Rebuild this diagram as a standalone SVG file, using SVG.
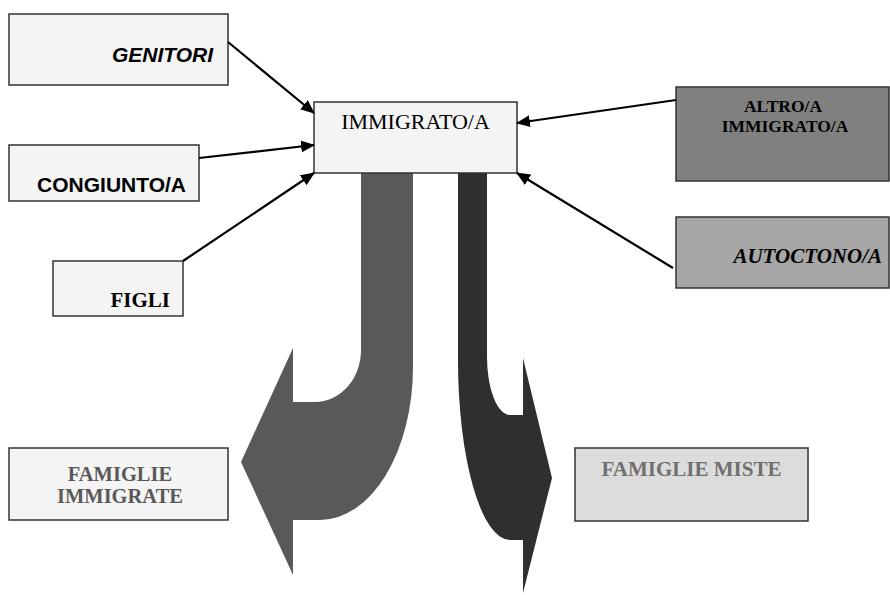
<svg xmlns="http://www.w3.org/2000/svg" width="890" height="595" viewBox="0 0 890 595">
<style>
.box{stroke:#333;stroke-width:1.5}
.sans{font-family:"Liberation Sans",Arial,sans-serif;font-weight:bold;font-size:21px;fill:#000}
.serif{font-family:"Liberation Serif","Times New Roman",serif;fill:#000}
.conn line{stroke:#000;stroke-width:2.2;marker-end:url(#ah)}
</style>
<defs>
<marker id="ah" markerUnits="userSpaceOnUse" markerWidth="14" markerHeight="12" viewBox="0 0 14 12" refX="13" refY="6" orient="auto">
<path d="M0,0 L14,6 L0,12 Z" fill="#000"/>
</marker>
</defs>
<g id="big-arrows">
<path id="arrow-immigrate" d="M361,173 L413,173 L413,367 A93,153 0 0 1 320,520 L293,520 L293,575 L241,462 L293,348 L293,402 L315,402 A46,52 0 0 0 361,350 Z" fill="#595959"/>
<path id="arrow-miste" d="M458,173 L487,173 L487,357 A23,58 0 0 0 510,415 L523,415 L523,358 L552,478 L523,593 L523,540 L510,540 A52,180 0 0 1 458,360 Z" fill="#2f2f2f"/>
</g>
<g id="genitori">
<rect class="box" x="9" y="14" width="219" height="71" fill="#f4f4f4"/>
<text class="sans" x="213" y="62" text-anchor="end" font-style="italic">GENITORI</text>
</g>
<g id="congiunto">
<rect class="box" x="9" y="145" width="190" height="56" fill="#f4f4f4"/>
<text class="sans" x="186" y="192" text-anchor="end">CONGIUNTO/A</text>
</g>
<g id="figli">
<rect class="box" x="53" y="261" width="130" height="55" fill="#f4f4f4"/>
<text class="serif" x="170" y="307" text-anchor="end" font-weight="bold" font-size="21">FIGLI</text>
</g>
<g id="immigrato">
<rect class="box" x="314" y="102" width="203" height="71" fill="#f4f4f4"/>
<text class="serif" x="415.5" y="129" text-anchor="middle" font-size="22">IMMIGRATO/A</text>
</g>
<g id="altro">
<rect class="box" x="676" y="87" width="213" height="94" fill="#808080"/>
<text class="serif" x="783" y="112" text-anchor="middle" font-weight="bold" font-size="17.5">ALTRO/A</text>
<text class="serif" x="785" y="132" text-anchor="middle" font-weight="bold" font-size="17.5">IMMIGRATO/A</text>
</g>
<g id="autoctono">
<rect class="box" x="676" y="217" width="213" height="71" fill="#a6a6a6"/>
<text class="serif" x="882" y="263" text-anchor="end" font-weight="bold" font-style="italic" font-size="21">AUTOCTONO/A</text>
</g>
<g id="famiglie-immigrate">
<rect class="box" x="9" y="448" width="219" height="72" fill="#f4f4f4"/>
<text class="serif" x="120" y="481" text-anchor="middle" font-weight="bold" font-size="20.5" fill="#595959" style="fill:#595959">FAMIGLIE</text>
<text class="serif" x="120" y="503" text-anchor="middle" font-weight="bold" font-size="20.5" style="fill:#595959">IMMIGRATE</text>
</g>
<g id="famiglie-miste">
<rect class="box" x="575" y="448" width="233" height="73" fill="#dcdcdc"/>
<text class="serif" x="691.5" y="476" text-anchor="middle" font-weight="bold" font-size="21" style="fill:#707070">FAMIGLIE MISTE</text>
</g>
<g id="connectors" class="conn">
<line x1="228" y1="42" x2="314" y2="113"/>
<line x1="199" y1="158" x2="314" y2="145"/>
<line x1="183" y1="261" x2="314" y2="173"/>
<line x1="676" y1="100" x2="517" y2="123"/>
<line x1="673" y1="268" x2="517" y2="173"/>
</g>
</svg>
